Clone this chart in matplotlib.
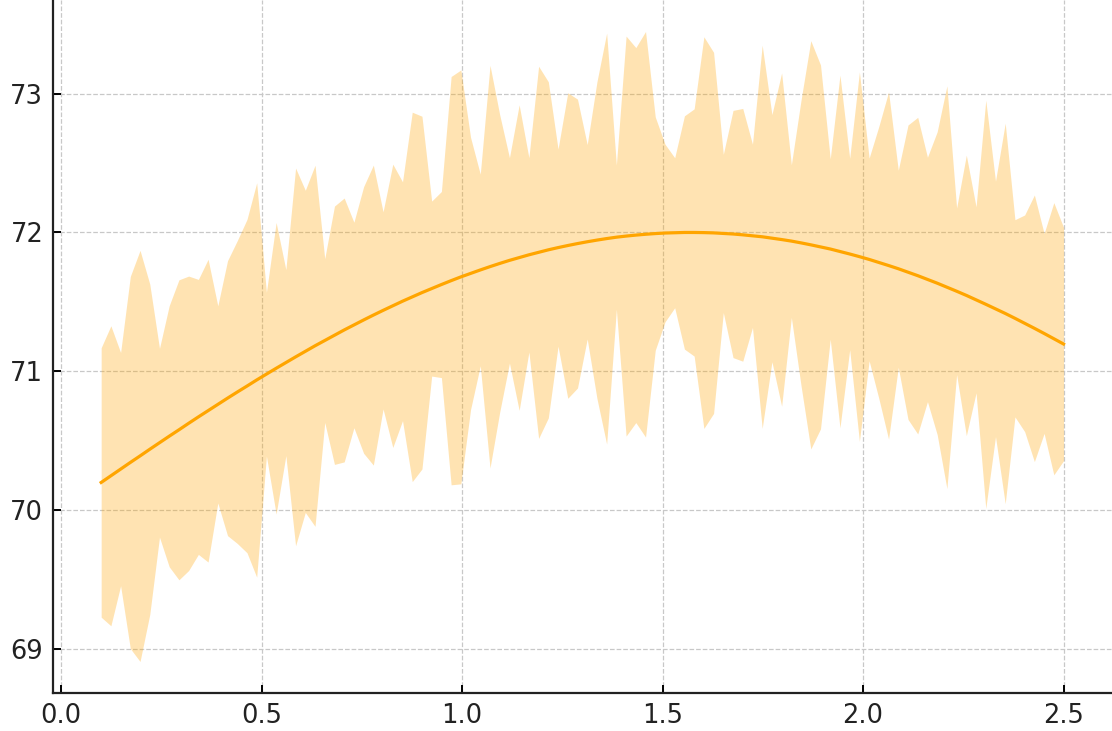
# mean curve with a shaded spread band around it

import numpy as np
import matplotlib.pyplot as plt

x_vals = np.linspace(0.1, 2.5, 100)

mean_vals = [
    70.200, 70.248, 70.296, 70.344, 70.391, 70.439, 70.486, 70.533, 70.579, 70.626,
    70.672, 70.717, 70.762, 70.807, 70.851, 70.894, 70.938, 70.980, 71.022, 71.063,
    71.104, 71.144, 71.184, 71.222, 71.260, 71.298, 71.334, 71.370, 71.405, 71.439,
    71.472, 71.505, 71.536, 71.567, 71.596, 71.625, 71.653, 71.680, 71.705, 71.730,
    71.754, 71.777, 71.799, 71.819, 71.839, 71.857, 71.875, 71.891, 71.906, 71.920,
    71.933, 71.945, 71.956, 71.966, 71.974, 71.981, 71.987, 71.992, 71.996, 71.998,
    72.000, 72.000, 71.999, 71.997, 71.993, 71.989, 71.983, 71.976, 71.969, 71.959,
    71.949, 71.938, 71.925, 71.911, 71.896, 71.881, 71.863, 71.845, 71.826, 71.806,
    71.784, 71.762, 71.739, 71.714, 71.689, 71.662, 71.635, 71.606, 71.577, 71.547,
    71.515, 71.483, 71.450, 71.417, 71.382, 71.346, 71.310, 71.273, 71.235, 71.197,
]

spread_vals = [
    0.97, 1.08, 0.84, 1.34, 1.48, 1.19, 0.68, 0.94, 1.08, 1.06,
    0.99, 1.09, 0.71, 0.99, 1.09, 1.20, 1.42, 0.59, 1.05, 0.67,
    1.36, 1.16, 1.30, 0.59, 0.93, 0.95, 0.74, 0.96, 1.08, 0.71,
    1.02, 0.86, 1.33, 1.27, 0.63, 0.67, 1.47, 1.49, 0.98, 0.69,
    1.45, 1.07, 0.74, 1.10, 0.70, 1.34, 1.21, 0.71, 1.10, 1.04,
    0.70, 1.14, 1.48, 0.52, 1.44, 1.35, 1.46, 0.84, 0.64, 0.54,
    0.84, 0.89, 1.41, 1.30, 0.57, 0.89, 0.91, 0.66, 1.38, 0.89,
    1.20, 0.55, 1.03, 1.47, 1.31, 0.65, 1.27, 0.69, 1.33, 0.73,
    0.98, 1.25, 0.71, 1.06, 1.14, 0.88, 1.09, 1.45, 0.60, 1.01,
    0.67, 1.47, 0.92, 1.37, 0.71, 0.78, 0.96, 0.72, 0.98, 0.84,
]

mean = np.array(mean_vals)
spread = np.array(spread_vals)

fig = plt.figure(figsize=(11.12, 7.31), dpi=100)
ax = fig.add_axes([0.0477, 0.052, 0.952, 0.948])

ax.fill_between(x_vals, mean - spread, mean + spread, color='orange', alpha=0.3, linewidth=0)
ax.plot(x_vals, mean, color='orange', linewidth=2.3)

ax.set_xticks([0.0, 0.5, 1.0, 1.5, 2.0, 2.5])
ax.set_yticks([69, 70, 71, 72, 73])
ax.grid(True, linestyle='--', color='#c8c8c8', linewidth=0.9)
ax.set_axisbelow(True)

ax.spines['top'].set_visible(False)
ax.spines['right'].set_visible(False)
for s in ['left', 'bottom']:
    ax.spines[s].set_linewidth(1.6)
    ax.spines[s].set_color('#222222')
ax.tick_params(direction='in', length=6, width=1.4, labelsize=18.5, labelcolor='#222222', pad=7)

fig.savefig("out.png", dpi=100)
